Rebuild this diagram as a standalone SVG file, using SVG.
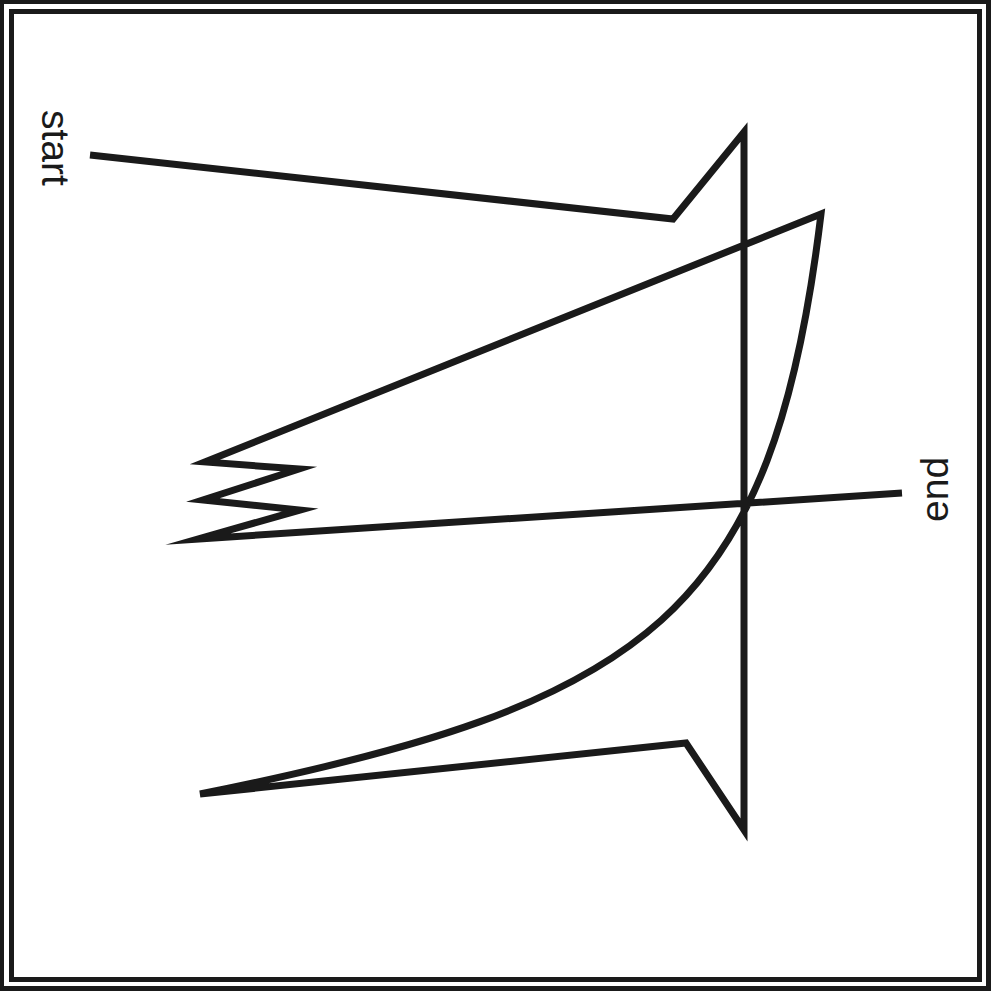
<svg xmlns="http://www.w3.org/2000/svg" width="991" height="991" viewBox="0 0 991 991">
<style>
.frame{fill:none;stroke:#1a1a1a;stroke-width:5}
.line{fill:none;stroke:#1a1a1a;stroke-width:7;stroke-linejoin:miter;stroke-miterlimit:20;stroke-linecap:butt}
.lbl{font-family:"Liberation Sans",Arial,sans-serif;font-size:39px;fill:#1a1a1a}
</style>
<rect width="991" height="991" fill="#ffffff"/>
<g id="frame">
<rect class="frame" x="1.5" y="1.5" width="987" height="987"/>
<rect class="frame" x="11.5" y="11.5" width="968" height="968"/>
</g>
<g id="connectors">
<path id="route" class="line" d="M90,155 L673,219 L744,132 L744,830 L686,743 L200,794 C650,704 773,614 821,214 L205,462 L299,469 L203,500 L300,510 L198,539 L902,493"/>
</g>
<g id="label-start"><text class="lbl" transform="translate(42,110) rotate(90)">start</text></g>
<g id="label-end"><text class="lbl" transform="translate(948,522) rotate(-90)">end</text></g>
</svg>
